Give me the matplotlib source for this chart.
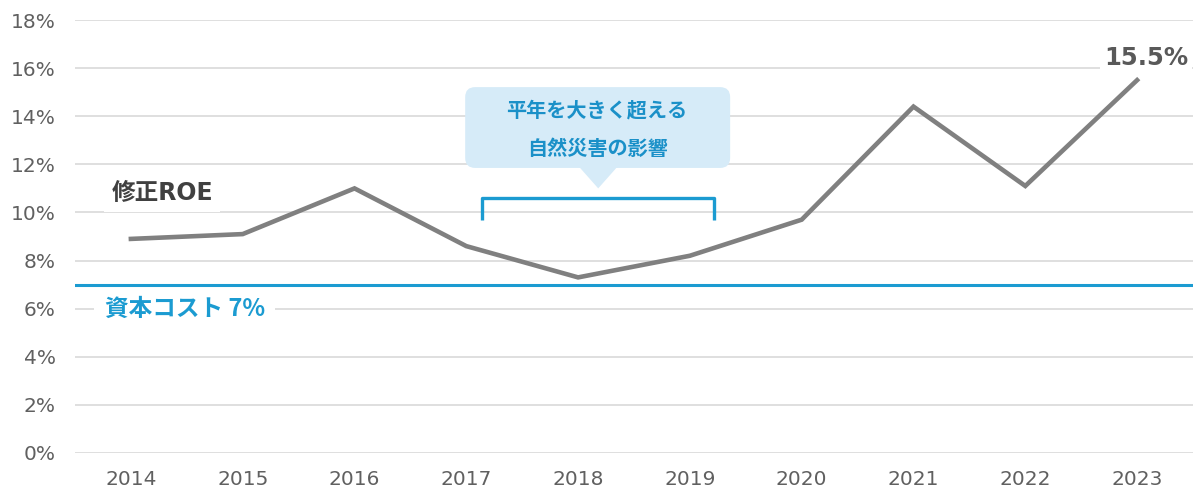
import matplotlib
matplotlib.use("Agg")
import matplotlib.pyplot as plt
from matplotlib.patches import FancyBboxPatch, Polygon
from matplotlib.transforms import IdentityTransform

plt.rcParams['font.family'] = ['Noto Sans CJK JP', 'DejaVu Sans']

# --- data -------------------------------------------------------------
years = ['2014', '2015', '2016', '2017', '2018', '2019', '2020', '2021', '2022', '2023']
adjusted_roe = [8.9, 9.1, 11.0, 8.6, 7.3, 8.2, 9.7, 14.4, 11.1, 15.5]
cost_of_capital = 7.0
y_ticks = [0, 2, 4, 6, 8, 10, 12, 14, 16, 18]
roe_label = '修正ROE'
coc_label = '資本コスト 7%'
callout_lines = ['平年を大きく超える', '自然災害の影響']
highlight_years = ['2017', '2019']

GRID = '#d9d9d9'
GRAY = '#808080'
BLUE = '#1b9bd1'
CALLOUT_BG = '#d6ebf8'
TEXT_BLUE = '#1a90c8'
TICK = '#606060'

fig = plt.figure(figsize=(11.95, 4.92), dpi=100)
ax = fig.add_axes([75 / 1195, 39 / 492, 1118 / 1195, 433 / 492])

x = list(range(len(years)))
ax.set_xlim(-0.5, len(years) - 0.5)
ax.set_ylim(y_ticks[0], y_ticks[-1])

for t in y_ticks:
    ax.axhline(t, color=GRID, lw=1.2, zorder=0)

ax.axhline(cost_of_capital, color=BLUE, lw=2.2, zorder=2)
ax.plot(x, adjusted_roe, color=GRAY, lw=3.3, zorder=3, solid_joinstyle='miter')

for s in ax.spines.values():
    s.set_visible(False)
ax.tick_params(length=0, labelsize=14.5, labelcolor=TICK)
ax.tick_params(axis='y', pad=14)
ax.tick_params(axis='x', pad=12)
ax.set_xticks(x)
ax.set_xticklabels(years, family='DejaVu Sans')
ax.set_yticks(y_ticks)
ax.set_yticklabels([f'{t}%' for t in y_ticks], family='DejaVu Sans')

# series labels with white backing over the gridlines
ax.text(0.28, 10.8, roe_label, fontsize=17, fontweight='bold', color='#404040',
        family=['DejaVu Sans', 'Noto Sans CJK JP'],
        ha='center', va='center', zorder=1,
        bbox=dict(boxstyle='square,pad=0.3', fc='white', ec='none'))
ax.text(0.48, 5.98, coc_label, fontsize=17, fontweight='bold', color=BLUE,
        ha='center', va='center', zorder=1,
        bbox=dict(boxstyle='square,pad=0.45', fc='white', ec='none'))

# final value label
ax.annotate(f'{adjusted_roe[-1]:.1f}%', xy=(x[-1], adjusted_roe[-1]),
            xytext=(6.5, 16), textcoords='offset points',
            fontsize=17.5, fontweight='bold', color='#595959', family='DejaVu Sans',
            ha='center', va='center', zorder=4,
            bbox=dict(boxstyle='square,pad=0.15', fc='white', ec='none'))

# bracket over the affected years
i0 = years.index(highlight_years[0])
i1 = years.index(highlight_years[1])
bx0, bx1 = i0 + 0.14, i1 + 0.22
ax.plot([bx0, bx0, bx1, bx1], [9.7, 10.6, 10.6, 9.7], color=BLUE, lw=2.4,
        solid_joinstyle='round', solid_capstyle='butt', zorder=4)

# callout bubble, drawn in pixel space for even corner rounding
fig.canvas.draw()
to_px = ax.transData.transform
left_px, _ = to_px((2.99, 0))
right_px, _ = to_px((5.36, 0))
_, top_px = to_px((0, 15.21))
_, bot_px = to_px((0, 11.85))
tip_x, tip_y = to_px((4.18, 11.0))
box = FancyBboxPatch((left_px + 8, bot_px + 8), right_px - left_px - 16, top_px - bot_px - 16,
                     boxstyle='round,pad=8,rounding_size=10', fc=CALLOUT_BG, ec='none',
                     transform=IdentityTransform(), zorder=5, clip_on=False)
ax.add_artist(box)
tri = Polygon([(tip_x - 19, bot_px + 1), (tip_x + 19, bot_px + 1), (tip_x, tip_y)],
              closed=True, fc=CALLOUT_BG, ec='none', transform=IdentityTransform(),
              zorder=5, clip_on=False)
ax.add_artist(tri)
ax.text(4.17, 14.26, callout_lines[0], fontsize=14.5, fontweight='bold', color=TEXT_BLUE,
        ha='center', va='center', zorder=6)
ax.text(4.17, 12.64, callout_lines[1], fontsize=14.5, fontweight='bold', color=TEXT_BLUE,
        ha='center', va='center', zorder=6)

fig.savefig('out.png', dpi=100)
